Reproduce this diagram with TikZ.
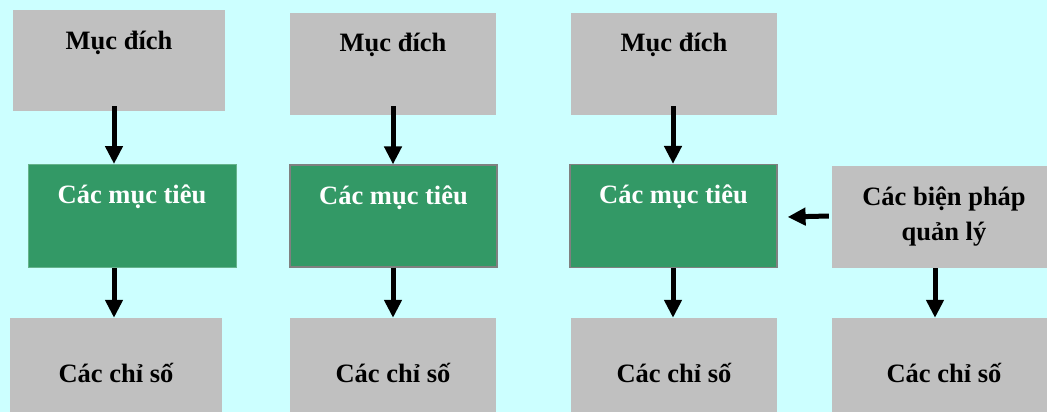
\documentclass[tikz,border=0pt]{standalone}
\usepackage{fontspec}
\setmainfont{Liberation Serif}
\usetikzlibrary{arrows.meta}
\definecolor{bgcyan}{HTML}{CCFFFF}
\definecolor{boxgrey}{HTML}{C0C0C0}
\definecolor{goalgreen}{HTML}{339966}
\definecolor{edgegreen}{HTML}{66B38C}
\definecolor{edgegrey}{HTML}{808080}
\begin{document}
\begin{tikzpicture}[x=1pt,y=-1pt,
  every node/.style={font=\fontsize{26.5}{35}\selectfont\bfseries, inner xsep=0pt, inner ysep=0pt, align=center},
  greybox/.style={fill=boxgrey, text=black},
  greenbox/.style={fill=goalgreen, text=white, draw=edgegrey, line width=1.2pt},
  greenboxlight/.style={fill=goalgreen, text=white, draw=edgegreen, line width=1pt},
  topbox/.style={greybox, minimum width=#1, text height=40pt, text depth=61pt},
  midbox/.style={minimum width=#1, text height=39pt, text depth=64pt},
  lowbox/.style={greybox, minimum width=#1, text height=64pt, text depth=48pt},
  arr/.style={line width=5pt, -{Triangle[length=18pt,width=17pt]}}
]
\useasboundingbox (0,0) rectangle (1047,412);
\clip (0,0) rectangle (1047,412);
\fill[bgcyan] (0,0) rectangle (1047,412);

% column 1
\node[topbox=212pt] (t1) at (119,60.5) {Mục đích};
\node[greenboxlight, midbox=208pt] (g1) at (132,216) {Các mục tiêu};
\node[lowbox=212pt] (b1) at (116,374) {Các chỉ số};

% column 2
\node[topbox=206pt, text height=39pt, text depth=63pt] (t2) at (393,64) {Mục đích};
\node[greenbox, midbox=207pt, text depth=63pt] (g2) at (393.5,216) {Các mục tiêu};
\node[lowbox=206pt] (b2) at (393,374) {Các chỉ số};

% column 3
\node[topbox=206pt, text height=39pt, text depth=63pt] (t3) at (674,64) {Mục đích};
\node[greenbox, midbox=207pt] (g3) at (673.5,216) {Các mục tiêu};
\node[lowbox=206pt] (b3) at (674,374) {Các chỉ số};

% column 4
\node[greybox, minimum width=224pt, text height=74pt, text depth=28pt] (m4) at (944,217) {Các biện pháp\\quản lý};
\node[lowbox=224pt] (b4) at (944,374) {Các chỉ số};

% connectors
\draw[arr] ([xshift=-5pt,yshift=5pt]t1.south) -- ([xshift=-5pt]t1.south |- g1.north);
\draw[arr] ([xshift=-18pt]g1.south) -- ([xshift=-18pt]g1.south |- b1.north);
\draw[arr] ([yshift=9pt]t2.south) -- (t2.south |- g2.north);
\draw[arr] ([xshift=-0.5pt]g2.south) -- ([xshift=-0.5pt]g2.south |- b2.north);
\draw[arr] ([xshift=-1pt,yshift=9pt]t3.south) -- ([xshift=-1pt]t3.south |- g3.north);
\draw[arr] ([xshift=-0.5pt]g3.south) -- ([xshift=-0.5pt]g3.south |- b3.north);
\draw[arr] ([xshift=-9pt]m4.south) -- ([xshift=-9pt]m4.south |- b4.north);
\draw[arr] ([xshift=-3pt,yshift=1pt]m4.west) -- ([xshift=10pt]m4.west -| g3.east);
\end{tikzpicture}
\end{document}
